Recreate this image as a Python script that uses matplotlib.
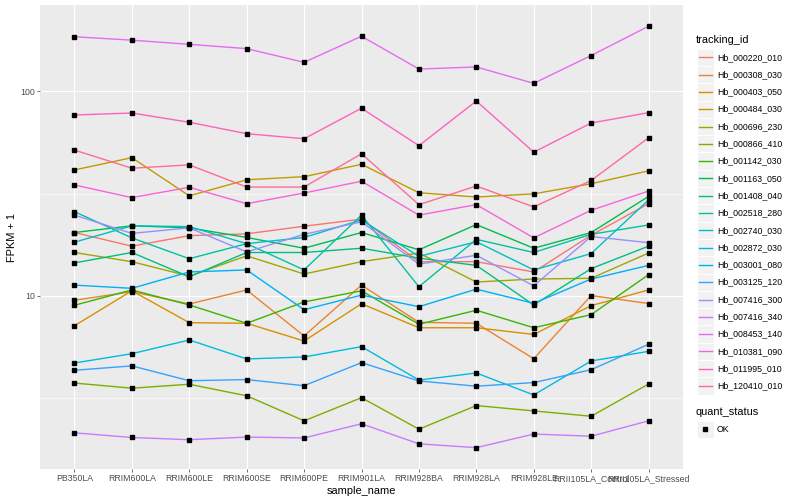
import matplotlib
matplotlib.use('Agg')
import matplotlib.pyplot as plt
from matplotlib.ticker import FixedLocator, NullFormatter
from matplotlib.patches import Rectangle
from matplotlib.lines import Line2D

plt.rcParams['font.family'] = ['Liberation Sans', 'DejaVu Sans']

## data (FPKM + 1)
samples = ['PB350LA', 'RRIM600LA', 'RRIM600LE', 'RRIM600SE', 'RRIM600PE', 'RRIM901LA',
           'RRIM928BA', 'RRIM928LA', 'RRIM928LE', 'RRII105LA_Control', 'RRII105LA_Stressed']

tracking_ids = ['Hb_000220_010', 'Hb_000308_030', 'Hb_000403_050', 'Hb_000484_030',
                'Hb_000696_230', 'Hb_000866_410', 'Hb_001142_030', 'Hb_001163_050',
                'Hb_001408_040', 'Hb_002518_280', 'Hb_002740_030', 'Hb_002872_030',
                'Hb_003001_080', 'Hb_003125_120', 'Hb_007416_300', 'Hb_007416_340',
                'Hb_008453_140', 'Hb_010381_090', 'Hb_011995_010', 'Hb_120410_010']

hb_000220_010 = [20.4, 17.5, 19.7, 20.1, 21.9, 23.7, 14.7, 14.7, 13.1, 19.8, 28.2]
hb_000308_030 = [9.53, 10.5, 9.14, 10.7, 6.38, 11.3, 7.44, 7.36, 4.94, 10.05, 9.19]
hb_000403_050 = [7.16, 10.6, 7.41, 7.36, 6.03, 9.17, 7.00, 7.00, 6.49, 8.97, 10.7]
hb_000484_030 = [41.2, 47.3, 30.8, 36.9, 38.2, 43.9, 31.9, 30.4, 31.5, 35.3, 40.8]
hb_000696_230 = [16.3, 14.7, 12.5, 15.7, 12.8, 14.7, 16.2, 11.7, 12.1, 12.2, 16.2]
hb_000866_410 = [3.76, 3.55, 3.71, 3.26, 2.46, 3.19, 2.24, 2.92, 2.75, 2.59, 3.72]
hb_001142_030 = [9.01, 10.7, 9.04, 7.36, 9.35, 10.6, 7.28, 8.52, 7.00, 8.11, 12.7]
hb_001163_050 = [20.4, 22.0, 21.5, 19.3, 17.1, 20.4, 16.8, 22.3, 17.1, 20.4, 30.6]
hb_001408_040 = [14.5, 16.3, 12.4, 16.3, 16.3, 17.1, 15.3, 14.1, 9.04, 13.6, 17.5]
hb_002518_280 = [25.8, 19.2, 15.2, 18.0, 13.4, 24.8, 11.1, 18.9, 16.3, 20.0, 22.2]
hb_002740_030 = [18.3, 22.0, 21.8, 18.0, 19.3, 23.5, 15.6, 18.4, 13.4, 16.1, 29.4]
hb_002872_030 = [4.71, 5.23, 6.10, 4.93, 5.04, 5.66, 3.89, 4.21, 3.29, 4.82, 5.37]
hb_003001_080 = [11.3, 10.9, 13.1, 13.4, 8.57, 10.1, 8.87, 10.8, 9.21, 12.1, 14.1]
hb_003125_120 = [4.34, 4.56, 3.86, 3.91, 3.65, 4.73, 3.85, 3.63, 3.78, 4.37, 5.81]
hb_007416_300 = [24.8, 20.2, 21.5, 16.4, 20.0, 23.0, 14.3, 15.8, 11.2, 19.5, 18.2]
hb_007416_340 = [2.15, 2.04, 1.99, 2.05, 2.03, 2.38, 1.90, 1.82, 2.12, 2.07, 2.46]
hb_008453_140 = [184, 177, 169, 161, 138, 185, 128, 131, 109, 149, 207]
hb_010381_090 = [34.8, 30.2, 33.9, 28.2, 31.8, 36.3, 24.8, 27.9, 19.2, 26.2, 32.5]
hb_011995_010 = [76.4, 78.1, 70.4, 61.9, 58.5, 82.4, 54.1, 89.4, 50.3, 69.8, 78.4]
hb_120410_010 = [51.5, 42.0, 43.6, 34.0, 34.0, 49.4, 27.9, 34.4, 27.2, 36.6, 59.1]

series = [hb_000220_010, hb_000308_030, hb_000403_050, hb_000484_030, hb_000696_230,
          hb_000866_410, hb_001142_030, hb_001163_050, hb_001408_040, hb_002518_280,
          hb_002740_030, hb_002872_030, hb_003001_080, hb_003125_120, hb_007416_300,
          hb_007416_340, hb_008453_140, hb_010381_090, hb_011995_010, hb_120410_010]

# ggplot hue palette, 20 levels
colors = ['#F8766D', '#EA8331', '#D89000', '#C09B00', '#A3A500', '#7CAE00', '#39B600',
          '#00BB4E', '#00BF7D', '#00C1A3', '#00BFC4', '#00BAE0', '#00B0F6', '#35A2FF',
          '#9590FF', '#C77CFF', '#E76BF3', '#FA62DB', '#FF62BC', '#FF6C91']

W, H = 800, 500
fig = plt.figure(figsize=(8, 5), dpi=100)
ax = fig.add_axes([40 / W, 1 - 469 / H, (683 - 40) / W, (469 - 5) / H])
ax.set_facecolor('#EBEBEB')
for s in ax.spines.values():
    s.set_visible(False)

xs = list(range(len(samples)))
for vals, c in zip(series, colors):
    ax.plot(xs, vals, color=c, lw=1.0, zorder=2)
for vals in series:
    ax.plot(xs, vals, ls='none', marker='s', ms=2.3, color='black', zorder=3)

ax.set_yscale('log')
ax.set_ylim(1.432, 262.8)
ax.set_xlim(-0.6, len(samples) - 0.4)
ax.set_xticks(xs)
ax.set_xticklabels(samples)
ax.yaxis.set_major_locator(FixedLocator([10, 100]))
ax.yaxis.set_major_formatter(plt.FixedFormatter(['10', '100']))
ax.yaxis.set_minor_locator(FixedLocator([10 ** 0.5, 10 ** 1.5]))
ax.yaxis.set_minor_formatter(NullFormatter())

ax.set_axisbelow(True)
ax.grid(which='major', color='white', lw=0.8)
ax.grid(which='minor', axis='y', color='white', lw=0.4)
ax.tick_params(which='major', length=2, width=0.5, color='#333333', labelcolor='#4D4D4D',
               labelsize=6.3, pad=1.6)
ax.tick_params(which='minor', length=0)

ax.set_xlabel('sample_name', fontsize=7.9, labelpad=2)
ax.set_ylabel('FPKM + 1', fontsize=7.9, labelpad=2)

# legend, drawn ggplot-like in figure coords
def fx(x):
    return x / W

def fy(y):
    return 1 - y / H

fig.text(fx(696), fy(40), 'tracking_id', fontsize=7.9, va='center', ha='left')
step = 17.3
for i, (tid, c) in enumerate(zip(tracking_ids, colors)):
    yc = 57.3 + step * i
    fig.add_artist(Rectangle((fx(696.5), fy(yc + step / 2)), 17 / W, step / H,
                             transform=fig.transFigure, fc='#F2F2F2', ec='white', lw=0.7))
    fig.add_artist(Line2D([fx(698.5), fx(711.5)], [fy(yc), fy(yc)],
                          transform=fig.transFigure, color=c, lw=1.0))
    fig.text(fx(717), fy(yc), tid, fontsize=6.3, va='center', ha='left')

fig.text(fx(696), fy(411.7), 'quant_status', fontsize=7.9, va='center', ha='left')
fig.add_artist(Rectangle((fx(696.5), fy(429.3 + step / 2)), 17 / W, step / H,
                         transform=fig.transFigure, fc='#F2F2F2', ec='white', lw=0.7))
fig.add_artist(Line2D([fx(705)], [fy(429.3)], transform=fig.transFigure,
                      ls='none', marker='s', ms=2.3, color='black'))
fig.text(fx(717), fy(429.3), 'OK', fontsize=6.3, va='center', ha='left')

fig.savefig('out.png', dpi=100)
